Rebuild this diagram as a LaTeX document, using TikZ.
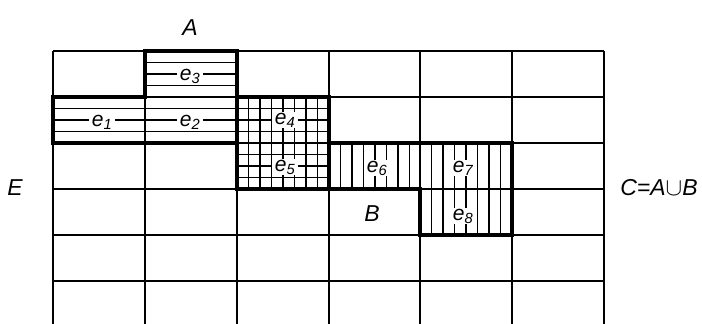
\documentclass[tikz,border=0pt]{standalone}
\usepackage{fontspec}
\setsansfont{Liberation Sans}
\begin{document}
\begin{tikzpicture}[x=1pt,y=-1pt,
  thin grid/.style={line width=1.8pt},
  thick edge/.style={line width=3.8pt, line join=miter, line cap=rect},
  hatch/.style={line width=1.5pt},
  lbl/.style={font=\fontsize{23}{26}\selectfont\sffamily\itshape, inner sep=0pt},
  elbl/.style={font=\fontsize{21}{24}\selectfont\sffamily\itshape, fill=white, inner xsep=3pt, inner ysep=0.5pt}]
\useasboundingbox (0,0) rectangle (702,324);
\def\hh{11.5}
% horizontal hatching (set A)
\foreach \x/\y in {145/51, 53/97, 145/97, 237/97, 237/143}
  \foreach \k in {1,2,3}
    \draw[hatch] (\x,\y+\k*\hh) -- (\x+92,\y+\k*\hh);
% vertical hatching (set B)
\foreach \x/\y in {237/97, 237/143, 329/143, 420/143, 420/189}
  \foreach \k in {1,...,7}
    \draw[hatch] (\x+\k*\hh,\y) -- (\x+\k*\hh,\y+46);
% grid
\foreach \x in {53,145,237,329,420,512,604}
  \draw[thin grid] (\x,51) -- (\x,324);
\foreach \y in {51,97,143,189,235,281}
  \draw[thin grid] (53,\y) -- (604,\y);
% thick outlines
\draw[thick edge] (53,97) -- (145,97) -- (145,51) -- (237,51) -- (237,97) -- (329,97)
  -- (329,143) -- (512,143) -- (512,235) -- (420,235) -- (420,189) -- (237,189)
  -- (237,143) -- (53,143) -- cycle;
\draw[thick edge] (237,97) -- (237,143);
\draw[thick edge] (329,143) -- (329,189);
% labels
\node[elbl] (e3) at (190,76) {e\textsubscript{3}};
\node[elbl] (e1) at (102,122) {e\textsubscript{1}};
\node[elbl] (e2) at (190,122) {e\textsubscript{2}};
\node[elbl] (e4) at (285,120) {e\textsubscript{4}};
\node[elbl] (e5) at (285,167) {e\textsubscript{5}};
\node[elbl] (e6) at (377,168) {e\textsubscript{6}};
\node[elbl] (e7) at (463,168) {e\textsubscript{7}};
\node[elbl] (e8) at (463,216) {e\textsubscript{8}};
\node[lbl] (A) at (190,28) {A};
\node[lbl] (B) at (372,214) {B};
\node[lbl] (E) at (15,188) {E};
\node[lbl] (C) at (659,188) {C=A$\cup$B};
\end{tikzpicture}
\end{document}
